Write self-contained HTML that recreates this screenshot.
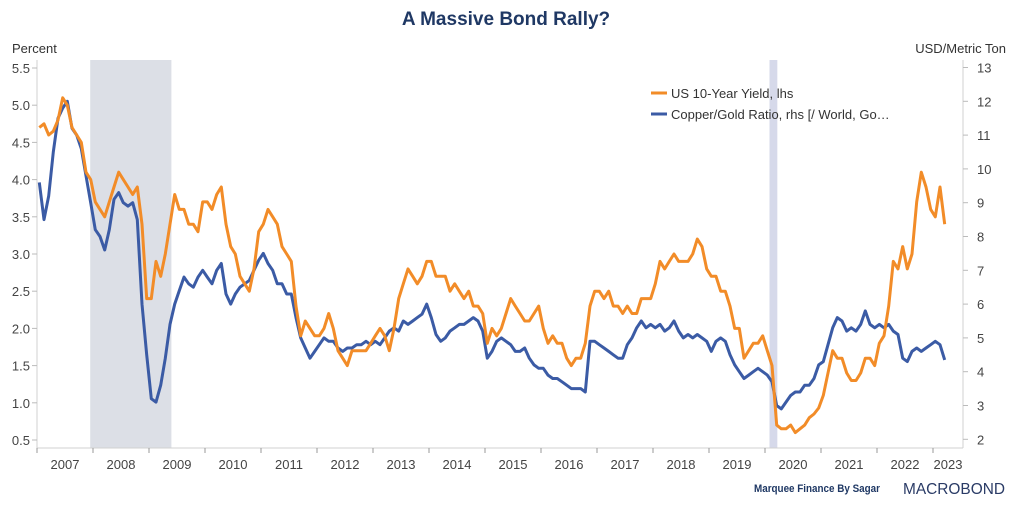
<!DOCTYPE html>
<html><head><meta charset="utf-8"><style>
body{margin:0;background:#fff;width:1012px;height:506px;overflow:hidden;font-family:"Liberation Sans",sans-serif}
svg text{font-family:"Liberation Sans",sans-serif}
</style></head><body>
<svg id="chart" width="1012" height="506" xmlns="http://www.w3.org/2000/svg">
<text x="506" y="25" text-anchor="middle" font-size="19" font-weight="bold" fill="#1f3864">A Massive Bond Rally?</text>
<text x="12" y="53" font-size="13" fill="#333">Percent</text>
<text x="1006" y="53" text-anchor="end" font-size="13" fill="#333">USD/Metric Ton</text>
<g id="shade"></g>
<g id="axes"></g>
<g id="series"></g>
<g>
<line x1="651" y1="93" x2="667" y2="93" stroke="#f28c28" stroke-width="3"/>
<text x="671" y="98" font-size="13" fill="#333">US 10-Year Yield, lhs</text>
<line x1="651" y1="114" x2="667" y2="114" stroke="#3b5ba5" stroke-width="3"/>
<text x="671" y="119" font-size="13" fill="#333">Copper/Gold Ratio, rhs [/ World, Go…</text>
</g>
<text x="754" y="492" font-size="11" font-weight="bold" fill="#1f3864" textLength="126" lengthAdjust="spacingAndGlyphs">Marquee Finance By Sagar</text>
<text x="903" y="494" font-size="16" fill="#2a3b66" textLength="102" lengthAdjust="spacingAndGlyphs">MACROBOND</text>
</svg>
<script>
const startYear = 2007;
const yieldValues = [
4.7,4.75,4.6,4.65,4.8,5.1,5.0,4.7,4.6,4.5,4.1,4.0,
3.7,3.6,3.5,3.7,3.9,4.1,4.0,3.9,3.8,3.9,3.4,2.4,
2.4,2.9,2.7,3.0,3.4,3.8,3.6,3.6,3.4,3.4,3.3,3.7,
3.7,3.6,3.8,3.9,3.4,3.1,3.0,2.7,2.6,2.5,2.8,3.3,
3.4,3.6,3.5,3.4,3.1,3.0,2.9,2.3,1.9,2.1,2.0,1.9,
1.9,2.0,2.2,2.0,1.7,1.6,1.5,1.7,1.7,1.7,1.7,1.8,
1.9,2.0,1.9,1.7,2.0,2.4,2.6,2.8,2.7,2.6,2.7,2.9,
2.9,2.7,2.7,2.7,2.5,2.6,2.5,2.4,2.5,2.3,2.3,2.2,
1.8,2.0,1.9,2.0,2.2,2.4,2.3,2.2,2.1,2.1,2.2,2.3,
2.0,1.8,1.9,1.8,1.8,1.6,1.5,1.6,1.6,1.8,2.3,2.5,
2.5,2.4,2.5,2.3,2.3,2.2,2.3,2.2,2.2,2.4,2.4,2.4,
2.6,2.9,2.8,2.9,3.0,2.9,2.9,2.9,3.0,3.2,3.1,2.8,
2.7,2.7,2.5,2.5,2.3,2.0,2.0,1.6,1.7,1.8,1.8,1.9,
1.7,1.5,0.7,0.65,0.65,0.7,0.6,0.65,0.7,0.8,0.85,0.93,
1.1,1.4,1.7,1.6,1.6,1.4,1.3,1.3,1.4,1.6,1.6,1.5,
1.8,1.9,2.3,2.9,2.8,3.1,2.8,3.0,3.7,4.1,3.9,3.6,
3.5,3.9,3.4];
const copperGoldValues = [
9.6,8.5,9.2,10.5,11.5,11.8,12.0,11.2,11.0,10.6,9.8,9.0,
8.2,8.0,7.6,8.2,9.1,9.3,9.0,8.9,9.0,8.5,6.0,4.5,
3.2,3.1,3.6,4.4,5.4,6.0,6.4,6.8,6.6,6.5,6.8,7.0,
6.8,6.6,7.0,7.2,6.3,6.0,6.3,6.5,6.6,6.7,7.0,7.3,
7.5,7.2,7.0,6.6,6.6,6.3,6.3,5.6,5.0,4.7,4.4,4.6,
4.8,5.0,4.9,4.9,4.7,4.6,4.7,4.7,4.8,4.8,4.9,4.8,
4.9,4.8,5.0,5.2,5.3,5.2,5.5,5.4,5.5,5.6,5.7,6.0,
5.6,5.1,4.9,5.0,5.2,5.3,5.4,5.4,5.5,5.6,5.5,5.2,
4.4,4.6,4.9,5.0,4.9,4.8,4.6,4.6,4.7,4.4,4.2,4.1,
4.1,3.9,3.8,3.8,3.7,3.6,3.5,3.5,3.5,3.4,4.9,4.9,
4.8,4.7,4.6,4.5,4.4,4.4,4.8,5.0,5.3,5.5,5.3,5.4,
5.3,5.4,5.2,5.3,5.5,5.2,5.0,5.1,5.0,5.1,5.0,4.9,
4.6,4.9,5.0,4.9,4.5,4.2,4.0,3.8,3.9,4.0,4.1,4.0,
3.9,3.7,3.0,2.9,3.1,3.3,3.4,3.4,3.6,3.6,3.8,4.2,
4.3,4.8,5.3,5.6,5.5,5.2,5.3,5.2,5.4,5.8,5.4,5.3,
5.4,5.3,5.4,5.2,5.1,4.4,4.3,4.6,4.7,4.6,4.7,4.8,
4.9,4.8,4.35];
const leftTicks = [0.5,1.0,1.5,2.0,2.5,3.0,3.5,4.0,4.5,5.0,5.5];
const leftTickLabels = ["0.5","1.0","1.5","2.0","2.5","3.0","3.5","4.0","4.5","5.0","5.5"];
const rightTicks = [2,3,4,5,6,7,8,9,10,11,12,13];
const yearLabels = [2007,2008,2009,2010,2011,2012,2013,2014,2015,2016,2017,2018,2019,2020,2021,2022,2023];
const recessionStarts = [2007.95, 2020.08];
const recessionEnds = [2009.4, 2020.22];

const NS = "http://www.w3.org/2000/svg";
const X0 = 37, PX_PER_YEAR = 56, X_RIGHT = 963, Y_BOTTOM = 448;
function xScale(t){ return X0 + (t - 2007) * PX_PER_YEAR; }
function yLeft(v){ return 440 - (v - 0.5) * 74.4; }
function yRight(v){ return 439.3 - (v - 2) * 33.8; }
function mk(tag, attrs, parent){ const e = document.createElementNS(NS, tag); for (const k in attrs) e.setAttribute(k, attrs[k]); parent.appendChild(e); return e; }

const shade = document.getElementById('shade');
recessionStarts.forEach((s, i) => {
  const r = mk('rect', {x: xScale(s), y: 60, width: xScale(recessionEnds[i]) - xScale(s), height: Y_BOTTOM - 60, fill: i === 0 ? '#dcdfe6' : '#d6d9ea'}, shade);
  
  
});

const axes = document.getElementById('axes');
let l = mk('line', {x1: X0, y1: 60, x2: X0, y2: Y_BOTTOM, stroke: '#d0d0d0'}, axes);


l = mk('line', {x1: X_RIGHT, y1: 60, x2: X_RIGHT, y2: Y_BOTTOM, stroke: '#d0d0d0'}, axes);


l = mk('line', {x1: X0, y1: Y_BOTTOM, x2: X_RIGHT, y2: Y_BOTTOM, stroke: '#d0d0d0'}, axes);



leftTicks.forEach((v, i) => {
  mk('line', {x1: X0 - 5, y1: yLeft(v), x2: X0, y2: yLeft(v), stroke: '#bbb'}, axes);
  const t = mk('text', {x: X0 - 7, y: yLeft(v) + 5, 'text-anchor': 'end', 'font-size': 13, fill: '#444'}, axes);
  t.textContent = leftTickLabels[i];
  
  
});
rightTicks.forEach(v => {
  mk('line', {x1: X_RIGHT, y1: yRight(v), x2: X_RIGHT + 5, y2: yRight(v), stroke: '#bbb'}, axes);
  const t = mk('text', {x: X_RIGHT + 14, y: yRight(v) + 5, 'font-size': 13, fill: '#444'}, axes);
  t.textContent = v;
  
  
});
yearLabels.forEach(y => {
  mk('line', {x1: xScale(y), y1: Y_BOTTOM, x2: xScale(y), y2: Y_BOTTOM + 5, stroke: '#999'}, axes);
  const cx = y === 2023 ? (xScale(y) + X_RIGHT) / 2 : xScale(y + 0.5);
  const t = mk('text', {x: cx, y: 469, 'text-anchor': 'middle', 'font-size': 13, fill: '#444'}, axes);
  t.textContent = y;
  
  
});

const series = document.getElementById('series');
function pathFor(vals, ys){ return vals.map((v, i) => (i ? 'L' : 'M') + xScale(startYear + (i + 0.5) / 12).toFixed(1) + ',' + ys(v).toFixed(1)).join(''); }
const blue = mk('path', {d: pathFor(copperGoldValues, yRight), fill: 'none', stroke: '#3b5ba5', 'stroke-width': 3, 'stroke-linejoin': 'round'}, series);


const orange = mk('path', {d: pathFor(yieldValues, yLeft), fill: 'none', stroke: '#f28c28', 'stroke-width': 3, 'stroke-linejoin': 'round'}, series);


</script>
</body></html>
